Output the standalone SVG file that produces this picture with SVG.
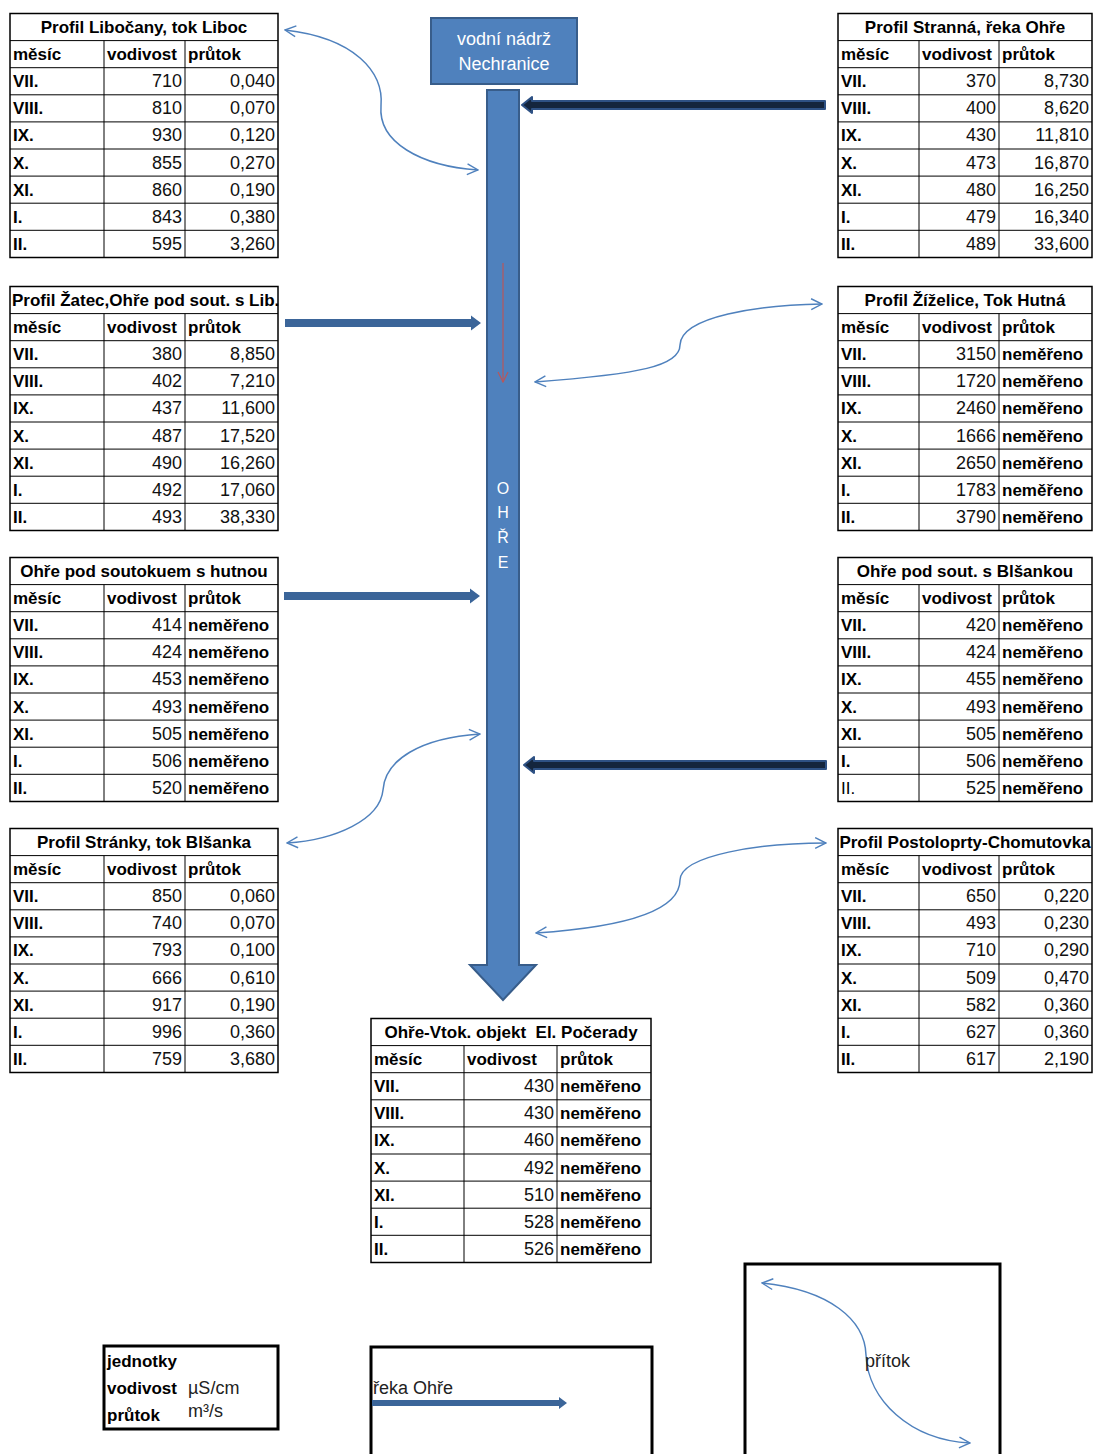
<svg xmlns="http://www.w3.org/2000/svg" width="1094" height="1454" viewBox="0 0 1094 1454">
<style>
.tb rect{fill:#fff;stroke:#000;stroke-width:1.5}
.tb line{stroke:#000;stroke-width:1}
.b{font-family:"Liberation Sans",Arial,sans-serif;font-weight:bold;font-size:17px;fill:#000}
.r{font-family:"Liberation Sans",Arial,sans-serif;font-size:17px;fill:#000}
.c{text-anchor:middle}
.n{font-family:"Liberation Sans",Arial,sans-serif;font-size:18px;text-anchor:end;fill:#111}
.w{font-family:"Liberation Sans",Arial,sans-serif;font-size:18px;fill:#fff;text-anchor:middle}
.lg{font-family:"Liberation Sans",Arial,sans-serif;font-size:18px;fill:#222}
.curve{fill:none;stroke:#4F81BD;stroke-width:1.5;marker-start:url(#open);marker-end:url(#open)}
.blue{fill:#3B6599}
.dark{fill:#14253D;stroke:#2E5184;stroke-width:2;stroke-linejoin:round}
.box{fill:none;stroke:#000;stroke-width:3}
</style>
<defs>
<marker id="open" viewBox="0 0 12 12" refX="11" refY="6" markerWidth="13" markerHeight="13" markerUnits="userSpaceOnUse" orient="auto-start-reverse">
<path d="M1,1 L11,6 L1,11" fill="none" stroke="#4F81BD" stroke-width="1.3"/>
</marker>
<marker id="red" viewBox="0 0 12 12" refX="11" refY="6" markerWidth="12" markerHeight="12" markerUnits="userSpaceOnUse" orient="auto">
<path d="M1,1 L11,6 L1,11" fill="none" stroke="#B9575A" stroke-width="1.2"/>
</marker>
</defs>
<rect width="1094" height="1454" fill="#fff"/>

<!-- reservoir -->
<g id="nechranice">
<rect x="431" y="18" width="146" height="66" fill="#4F81BD" stroke="#385D8A" stroke-width="2"/>
<text class="w" x="504" y="45">vodní nádrž</text>
<text class="w" x="504" y="70">Nechranice</text>
</g>

<!-- river -->
<g id="ohre">
<path d="M487,90 L519,90 L519,965 L536,965 L503,1000 L470,965 L487,965 Z" fill="#4F81BD" stroke="#385D8A" stroke-width="2"/>
<text class="w" x="503" y="494" style="font-size:16px">O</text>
<text class="w" x="503" y="518" style="font-size:16px">H</text>
<text class="w" x="503" y="543" style="font-size:16px">Ř</text>
<text class="w" x="503" y="568" style="font-size:16px">E</text>
<line x1="503" y1="263" x2="503" y2="382" stroke="#B9575A" stroke-width="1.2" marker-end="url(#red)"/>
</g>

<!-- connectors -->
<g id="connectors">
<path class="dark" d="M825,101 L532,101 L532,97 L522,105 L532,113 L532,109 L825,109 Z"/>
<path class="dark" d="M826,761 L534,761 L534,757 L524,765 L534,773 L534,769 L826,769 Z"/>
<path class="blue" d="M285,319 L471,319 L471,315.5 L481,323 L471,330.5 L471,327 L285,327 Z"/>
<path class="blue" d="M284,592 L470,592 L470,588.5 L480,596 L470,603.5 L470,600 L284,600 Z"/>
<path class="curve" d="M285,30 C355,38 384,72 381,106 C378,142 420,166 478,170"/>
<path class="curve" d="M535,382 C640,374 680,366 680,345 C681,316 760,305 822,304"/>
<path class="curve" d="M480,734 C420,738 385,760 383,790 C380,820 335,840 287,843"/>
<path class="curve" d="M536,933 C640,926 680,906 680,880 C681,855 760,843 826,843"/>
</g>

<!-- left tables -->
<g id="t-libocany" class="tb" transform="translate(10,13.5)">
<rect x="0" y="0" width="268" height="244"/>
<line x1="0" y1="27.1" x2="268" y2="27.1"/><line x1="0" y1="54.2" x2="268" y2="54.2"/><line x1="0" y1="81.3" x2="268" y2="81.3"/><line x1="0" y1="108.4" x2="268" y2="108.4"/><line x1="0" y1="135.5" x2="268" y2="135.5"/><line x1="0" y1="162.6" x2="268" y2="162.6"/><line x1="0" y1="189.7" x2="268" y2="189.7"/><line x1="0" y1="216.8" x2="268" y2="216.8"/>
<line x1="94" y1="27.1" x2="94" y2="244"/><line x1="175" y1="27.1" x2="175" y2="244"/>
<text class="b c" x="134" y="19.5">Profil Libočany, tok Liboc</text>
<text class="b" x="3" y="46.6">měsíc</text><text class="b" x="97" y="46.6">vodivost</text><text class="b" x="178" y="46.6">průtok</text>
<text class="b" x="3" y="73.7">VII.</text><text class="n" x="172" y="73.7">710</text><text class="n" x="265" y="73.7">0,040</text>
<text class="b" x="3" y="100.8">VIII.</text><text class="n" x="172" y="100.8">810</text><text class="n" x="265" y="100.8">0,070</text>
<text class="b" x="3" y="127.9">IX.</text><text class="n" x="172" y="127.9">930</text><text class="n" x="265" y="127.9">0,120</text>
<text class="b" x="3" y="155">X.</text><text class="n" x="172" y="155">855</text><text class="n" x="265" y="155">0,270</text>
<text class="b" x="3" y="182.1">XI.</text><text class="n" x="172" y="182.1">860</text><text class="n" x="265" y="182.1">0,190</text>
<text class="b" x="3" y="209.2">I.</text><text class="n" x="172" y="209.2">843</text><text class="n" x="265" y="209.2">0,380</text>
<text class="b" x="3" y="236.3">II.</text><text class="n" x="172" y="236.3">595</text><text class="n" x="265" y="236.3">3,260</text>
</g>

<g id="t-zatec" class="tb" transform="translate(10,286.5)">
<rect x="0" y="0" width="268" height="244"/>
<line x1="0" y1="27.1" x2="268" y2="27.1"/><line x1="0" y1="54.2" x2="268" y2="54.2"/><line x1="0" y1="81.3" x2="268" y2="81.3"/><line x1="0" y1="108.4" x2="268" y2="108.4"/><line x1="0" y1="135.5" x2="268" y2="135.5"/><line x1="0" y1="162.6" x2="268" y2="162.6"/><line x1="0" y1="189.7" x2="268" y2="189.7"/><line x1="0" y1="216.8" x2="268" y2="216.8"/>
<line x1="94" y1="27.1" x2="94" y2="244"/><line x1="175" y1="27.1" x2="175" y2="244"/>
<text class="b" x="2" y="19.5">Profil Žatec,Ohře pod sout. s Lib.</text>
<text class="b" x="3" y="46.6">měsíc</text><text class="b" x="97" y="46.6">vodivost</text><text class="b" x="178" y="46.6">průtok</text>
<text class="b" x="3" y="73.7">VII.</text><text class="n" x="172" y="73.7">380</text><text class="n" x="265" y="73.7">8,850</text>
<text class="b" x="3" y="100.8">VIII.</text><text class="n" x="172" y="100.8">402</text><text class="n" x="265" y="100.8">7,210</text>
<text class="b" x="3" y="127.9">IX.</text><text class="n" x="172" y="127.9">437</text><text class="n" x="265" y="127.9">11,600</text>
<text class="b" x="3" y="155">X.</text><text class="n" x="172" y="155">487</text><text class="n" x="265" y="155">17,520</text>
<text class="b" x="3" y="182.1">XI.</text><text class="n" x="172" y="182.1">490</text><text class="n" x="265" y="182.1">16,260</text>
<text class="b" x="3" y="209.2">I.</text><text class="n" x="172" y="209.2">492</text><text class="n" x="265" y="209.2">17,060</text>
<text class="b" x="3" y="236.3">II.</text><text class="n" x="172" y="236.3">493</text><text class="n" x="265" y="236.3">38,330</text>
</g>

<g id="t-pod-hutnou" class="tb" transform="translate(10,557.5)">
<rect x="0" y="0" width="268" height="244"/>
<line x1="0" y1="27.1" x2="268" y2="27.1"/><line x1="0" y1="54.2" x2="268" y2="54.2"/><line x1="0" y1="81.3" x2="268" y2="81.3"/><line x1="0" y1="108.4" x2="268" y2="108.4"/><line x1="0" y1="135.5" x2="268" y2="135.5"/><line x1="0" y1="162.6" x2="268" y2="162.6"/><line x1="0" y1="189.7" x2="268" y2="189.7"/><line x1="0" y1="216.8" x2="268" y2="216.8"/>
<line x1="94" y1="27.1" x2="94" y2="244"/><line x1="175" y1="27.1" x2="175" y2="244"/>
<text class="b c" x="134" y="19.5">Ohře pod soutokuem s hutnou</text>
<text class="b" x="3" y="46.6">měsíc</text><text class="b" x="97" y="46.6">vodivost</text><text class="b" x="178" y="46.6">průtok</text>
<text class="b" x="3" y="73.7">VII.</text><text class="n" x="172" y="73.7">414</text><text class="b" x="178" y="73.7">neměřeno</text>
<text class="b" x="3" y="100.8">VIII.</text><text class="n" x="172" y="100.8">424</text><text class="b" x="178" y="100.8">neměřeno</text>
<text class="b" x="3" y="127.9">IX.</text><text class="n" x="172" y="127.9">453</text><text class="b" x="178" y="127.9">neměřeno</text>
<text class="b" x="3" y="155">X.</text><text class="n" x="172" y="155">493</text><text class="b" x="178" y="155">neměřeno</text>
<text class="b" x="3" y="182.1">XI.</text><text class="n" x="172" y="182.1">505</text><text class="b" x="178" y="182.1">neměřeno</text>
<text class="b" x="3" y="209.2">I.</text><text class="n" x="172" y="209.2">506</text><text class="b" x="178" y="209.2">neměřeno</text>
<text class="b" x="3" y="236.3">II.</text><text class="n" x="172" y="236.3">520</text><text class="b" x="178" y="236.3">neměřeno</text>
</g>

<g id="t-stranky" class="tb" transform="translate(10,828.5)">
<rect x="0" y="0" width="268" height="244"/>
<line x1="0" y1="27.1" x2="268" y2="27.1"/><line x1="0" y1="54.2" x2="268" y2="54.2"/><line x1="0" y1="81.3" x2="268" y2="81.3"/><line x1="0" y1="108.4" x2="268" y2="108.4"/><line x1="0" y1="135.5" x2="268" y2="135.5"/><line x1="0" y1="162.6" x2="268" y2="162.6"/><line x1="0" y1="189.7" x2="268" y2="189.7"/><line x1="0" y1="216.8" x2="268" y2="216.8"/>
<line x1="94" y1="27.1" x2="94" y2="244"/><line x1="175" y1="27.1" x2="175" y2="244"/>
<text class="b c" x="134" y="19.5">Profil Stránky, tok Blšanka</text>
<text class="b" x="3" y="46.6">měsíc</text><text class="b" x="97" y="46.6">vodivost</text><text class="b" x="178" y="46.6">průtok</text>
<text class="b" x="3" y="73.7">VII.</text><text class="n" x="172" y="73.7">850</text><text class="n" x="265" y="73.7">0,060</text>
<text class="b" x="3" y="100.8">VIII.</text><text class="n" x="172" y="100.8">740</text><text class="n" x="265" y="100.8">0,070</text>
<text class="b" x="3" y="127.9">IX.</text><text class="n" x="172" y="127.9">793</text><text class="n" x="265" y="127.9">0,100</text>
<text class="b" x="3" y="155">X.</text><text class="n" x="172" y="155">666</text><text class="n" x="265" y="155">0,610</text>
<text class="b" x="3" y="182.1">XI.</text><text class="n" x="172" y="182.1">917</text><text class="n" x="265" y="182.1">0,190</text>
<text class="b" x="3" y="209.2">I.</text><text class="n" x="172" y="209.2">996</text><text class="n" x="265" y="209.2">0,360</text>
<text class="b" x="3" y="236.3">II.</text><text class="n" x="172" y="236.3">759</text><text class="n" x="265" y="236.3">3,680</text>
</g>

<!-- right tables -->
<g id="t-stranna" class="tb" transform="translate(838,13.5)">
<rect x="0" y="0" width="254" height="244"/>
<line x1="0" y1="27.1" x2="254" y2="27.1"/><line x1="0" y1="54.2" x2="254" y2="54.2"/><line x1="0" y1="81.3" x2="254" y2="81.3"/><line x1="0" y1="108.4" x2="254" y2="108.4"/><line x1="0" y1="135.5" x2="254" y2="135.5"/><line x1="0" y1="162.6" x2="254" y2="162.6"/><line x1="0" y1="189.7" x2="254" y2="189.7"/><line x1="0" y1="216.8" x2="254" y2="216.8"/>
<line x1="81" y1="27.1" x2="81" y2="244"/><line x1="161" y1="27.1" x2="161" y2="244"/>
<text class="b c" x="127" y="19.5">Profil Stranná, řeka Ohře</text>
<text class="b" x="3" y="46.6">měsíc</text><text class="b" x="84" y="46.6">vodivost</text><text class="b" x="164" y="46.6">průtok</text>
<text class="b" x="3" y="73.7">VII.</text><text class="n" x="158" y="73.7">370</text><text class="n" x="251" y="73.7">8,730</text>
<text class="b" x="3" y="100.8">VIII.</text><text class="n" x="158" y="100.8">400</text><text class="n" x="251" y="100.8">8,620</text>
<text class="b" x="3" y="127.9">IX.</text><text class="n" x="158" y="127.9">430</text><text class="n" x="251" y="127.9">11,810</text>
<text class="b" x="3" y="155">X.</text><text class="n" x="158" y="155">473</text><text class="n" x="251" y="155">16,870</text>
<text class="b" x="3" y="182.1">XI.</text><text class="n" x="158" y="182.1">480</text><text class="n" x="251" y="182.1">16,250</text>
<text class="b" x="3" y="209.2">I.</text><text class="n" x="158" y="209.2">479</text><text class="n" x="251" y="209.2">16,340</text>
<text class="b" x="3" y="236.3">II.</text><text class="n" x="158" y="236.3">489</text><text class="n" x="251" y="236.3">33,600</text>
</g>

<g id="t-zizelice" class="tb" transform="translate(838,286.5)">
<rect x="0" y="0" width="254" height="244"/>
<line x1="0" y1="27.1" x2="254" y2="27.1"/><line x1="0" y1="54.2" x2="254" y2="54.2"/><line x1="0" y1="81.3" x2="254" y2="81.3"/><line x1="0" y1="108.4" x2="254" y2="108.4"/><line x1="0" y1="135.5" x2="254" y2="135.5"/><line x1="0" y1="162.6" x2="254" y2="162.6"/><line x1="0" y1="189.7" x2="254" y2="189.7"/><line x1="0" y1="216.8" x2="254" y2="216.8"/>
<line x1="81" y1="27.1" x2="81" y2="244"/><line x1="161" y1="27.1" x2="161" y2="244"/>
<text class="b c" x="127" y="19.5">Profil Žíželice, Tok Hutná</text>
<text class="b" x="3" y="46.6">měsíc</text><text class="b" x="84" y="46.6">vodivost</text><text class="b" x="164" y="46.6">průtok</text>
<text class="b" x="3" y="73.7">VII.</text><text class="n" x="158" y="73.7">3150</text><text class="b" x="164" y="73.7">neměřeno</text>
<text class="b" x="3" y="100.8">VIII.</text><text class="n" x="158" y="100.8">1720</text><text class="b" x="164" y="100.8">neměřeno</text>
<text class="b" x="3" y="127.9">IX.</text><text class="n" x="158" y="127.9">2460</text><text class="b" x="164" y="127.9">neměřeno</text>
<text class="b" x="3" y="155">X.</text><text class="n" x="158" y="155">1666</text><text class="b" x="164" y="155">neměřeno</text>
<text class="b" x="3" y="182.1">XI.</text><text class="n" x="158" y="182.1">2650</text><text class="b" x="164" y="182.1">neměřeno</text>
<text class="b" x="3" y="209.2">I.</text><text class="n" x="158" y="209.2">1783</text><text class="b" x="164" y="209.2">neměřeno</text>
<text class="b" x="3" y="236.3">II.</text><text class="n" x="158" y="236.3">3790</text><text class="b" x="164" y="236.3">neměřeno</text>
</g>

<g id="t-pod-blsankou" class="tb" transform="translate(838,557.5)">
<rect x="0" y="0" width="254" height="244"/>
<line x1="0" y1="27.1" x2="254" y2="27.1"/><line x1="0" y1="54.2" x2="254" y2="54.2"/><line x1="0" y1="81.3" x2="254" y2="81.3"/><line x1="0" y1="108.4" x2="254" y2="108.4"/><line x1="0" y1="135.5" x2="254" y2="135.5"/><line x1="0" y1="162.6" x2="254" y2="162.6"/><line x1="0" y1="189.7" x2="254" y2="189.7"/><line x1="0" y1="216.8" x2="254" y2="216.8"/>
<line x1="81" y1="27.1" x2="81" y2="244"/><line x1="161" y1="27.1" x2="161" y2="244"/>
<text class="b c" x="127" y="19.5">Ohře pod sout. s Blšankou</text>
<text class="b" x="3" y="46.6">měsíc</text><text class="b" x="84" y="46.6">vodivost</text><text class="b" x="164" y="46.6">průtok</text>
<text class="b" x="3" y="73.7">VII.</text><text class="n" x="158" y="73.7">420</text><text class="b" x="164" y="73.7">neměřeno</text>
<text class="b" x="3" y="100.8">VIII.</text><text class="n" x="158" y="100.8">424</text><text class="b" x="164" y="100.8">neměřeno</text>
<text class="b" x="3" y="127.9">IX.</text><text class="n" x="158" y="127.9">455</text><text class="b" x="164" y="127.9">neměřeno</text>
<text class="b" x="3" y="155">X.</text><text class="n" x="158" y="155">493</text><text class="b" x="164" y="155">neměřeno</text>
<text class="b" x="3" y="182.1">XI.</text><text class="n" x="158" y="182.1">505</text><text class="b" x="164" y="182.1">neměřeno</text>
<text class="b" x="3" y="209.2">I.</text><text class="n" x="158" y="209.2">506</text><text class="b" x="164" y="209.2">neměřeno</text>
<text class="r" x="3" y="236.3">II.</text><text class="n" x="158" y="236.3">525</text><text class="b" x="164" y="236.3">neměřeno</text>
</g>

<g id="t-postoloprty" class="tb" transform="translate(838,828.5)">
<rect x="0" y="0" width="254" height="244"/>
<line x1="0" y1="27.1" x2="254" y2="27.1"/><line x1="0" y1="54.2" x2="254" y2="54.2"/><line x1="0" y1="81.3" x2="254" y2="81.3"/><line x1="0" y1="108.4" x2="254" y2="108.4"/><line x1="0" y1="135.5" x2="254" y2="135.5"/><line x1="0" y1="162.6" x2="254" y2="162.6"/><line x1="0" y1="189.7" x2="254" y2="189.7"/><line x1="0" y1="216.8" x2="254" y2="216.8"/>
<line x1="81" y1="27.1" x2="81" y2="244"/><line x1="161" y1="27.1" x2="161" y2="244"/>
<text class="b c" x="127" y="19.5">Profil Postoloprty-Chomutovka</text>
<text class="b" x="3" y="46.6">měsíc</text><text class="b" x="84" y="46.6">vodivost</text><text class="b" x="164" y="46.6">průtok</text>
<text class="b" x="3" y="73.7">VII.</text><text class="n" x="158" y="73.7">650</text><text class="n" x="251" y="73.7">0,220</text>
<text class="b" x="3" y="100.8">VIII.</text><text class="n" x="158" y="100.8">493</text><text class="n" x="251" y="100.8">0,230</text>
<text class="b" x="3" y="127.9">IX.</text><text class="n" x="158" y="127.9">710</text><text class="n" x="251" y="127.9">0,290</text>
<text class="b" x="3" y="155">X.</text><text class="n" x="158" y="155">509</text><text class="n" x="251" y="155">0,470</text>
<text class="b" x="3" y="182.1">XI.</text><text class="n" x="158" y="182.1">582</text><text class="n" x="251" y="182.1">0,360</text>
<text class="b" x="3" y="209.2">I.</text><text class="n" x="158" y="209.2">627</text><text class="n" x="251" y="209.2">0,360</text>
<text class="b" x="3" y="236.3">II.</text><text class="n" x="158" y="236.3">617</text><text class="n" x="251" y="236.3">2,190</text>
</g>

<!-- bottom table -->
<g id="t-pocerady" class="tb" transform="translate(371,1018.5)">
<rect x="0" y="0" width="280" height="244"/>
<line x1="0" y1="27.1" x2="280" y2="27.1"/><line x1="0" y1="54.2" x2="280" y2="54.2"/><line x1="0" y1="81.3" x2="280" y2="81.3"/><line x1="0" y1="108.4" x2="280" y2="108.4"/><line x1="0" y1="135.5" x2="280" y2="135.5"/><line x1="0" y1="162.6" x2="280" y2="162.6"/><line x1="0" y1="189.7" x2="280" y2="189.7"/><line x1="0" y1="216.8" x2="280" y2="216.8"/>
<line x1="93" y1="27.1" x2="93" y2="244"/><line x1="186" y1="27.1" x2="186" y2="244"/>
<text class="b c" x="140" y="19.5" xml:space="preserve">Ohře-Vtok. objekt  El. Počerady</text>
<text class="b" x="3" y="46.6">měsíc</text><text class="b" x="96" y="46.6">vodivost</text><text class="b" x="189" y="46.6">průtok</text>
<text class="b" x="3" y="73.7">VII.</text><text class="n" x="183" y="73.7">430</text><text class="b" x="189" y="73.7">neměřeno</text>
<text class="b" x="3" y="100.8">VIII.</text><text class="n" x="183" y="100.8">430</text><text class="b" x="189" y="100.8">neměřeno</text>
<text class="b" x="3" y="127.9">IX.</text><text class="n" x="183" y="127.9">460</text><text class="b" x="189" y="127.9">neměřeno</text>
<text class="b" x="3" y="155">X.</text><text class="n" x="183" y="155">492</text><text class="b" x="189" y="155">neměřeno</text>
<text class="b" x="3" y="182.1">XI.</text><text class="n" x="183" y="182.1">510</text><text class="b" x="189" y="182.1">neměřeno</text>
<text class="b" x="3" y="209.2">I.</text><text class="n" x="183" y="209.2">528</text><text class="b" x="189" y="209.2">neměřeno</text>
<text class="b" x="3" y="236.3">II.</text><text class="n" x="183" y="236.3">526</text><text class="b" x="189" y="236.3">neměřeno</text>
</g>

<!-- legends -->
<g id="legend-units">
<rect class="box" x="104" y="1346" width="174" height="83" fill="#fff"/>
<text class="b" x="107" y="1367">jednotky</text>
<text class="b" x="107" y="1394">vodivost</text>
<text class="b" x="107" y="1421">průtok</text>
<text class="lg" x="188" y="1394">µS/cm</text>
<text class="lg" x="188" y="1417">m³/s</text>
</g>
<g id="legend-river">
<rect class="box" x="371" y="1347" width="281" height="120"/>
<text class="lg" x="373" y="1394">řeka Ohře</text>
<path class="blue" d="M372,1400 L559,1400 L559,1397 L567,1403 L559,1409 L559,1406 L372,1406 Z"/>
</g>
<g id="legend-tributary">
<rect class="box" x="745" y="1264" width="255" height="210"/>
<path class="curve" d="M762,1283 C830,1290 865,1320 866,1355 C868,1400 910,1440 970,1443"/>
<text class="lg" x="865" y="1367">přítok</text>
</g>
</svg>
